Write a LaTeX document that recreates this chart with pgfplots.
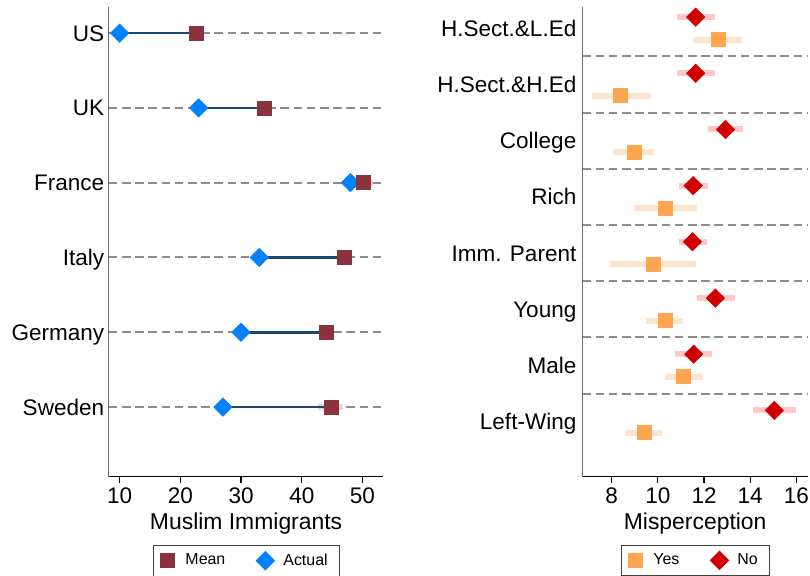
\documentclass[border=0pt]{standalone}
\usepackage{pgfplots}
\pgfplotsset{compat=1.18}
\usepackage{fontspec}
\setmainfont{Liberation Sans}
\definecolor{meanred}{RGB}{140,50,60}
\definecolor{actualblue}{RGB}{0,130,255}
\definecolor{navyline}{RGB}{26,71,111}
\definecolor{cimean}{RGB}{236,212,214}
\definecolor{yesorange}{RGB}{255,165,79}
\definecolor{yesci}{RGB}{255,228,204}
\definecolor{nored}{RGB}{208,0,0}
\definecolor{noci}{RGB}{255,200,200}
\definecolor{gridgray}{RGB}{140,140,140}
\definecolor{yaxgray}{RGB}{110,110,110}
\begin{document}
\begin{tikzpicture}
\path[use as bounding box] (0,0) rectangle (405bp,288bp);
\pgfplotsset{
  common/.style={
    scale only axis,
    axis x line*=bottom, axis y line*=left,
    axis line style={-},
    every outer x axis line/.append style={-},
    every outer y axis line/.append style={-},
    x axis line style={black, line width=0.7bp},
    y axis line style={draw=yaxgray, line width=0.6bp},
    tick align=outside,
    major tick length=3bp,
    minor tick length=0pt,
    xtick style={black, line width=0.6bp},
    ytick style={draw=none},
    /pgf/number format/assume math mode=true,
    tick label style={font=\fontsize{11.3}{13.5}\selectfont},
    xticklabel style={anchor=base, yshift=-10.5bp},
    yticklabel style={anchor=base east, inner xsep=0pt, yshift=-4bp},
    label style={font=\fontsize{11.5}{13.8}\selectfont},
    xlabel style={at={(axis description cs:0.5,0)}, anchor=base, yshift=-26.3bp},
    grid style={gridgray, line width=1bp, dash pattern=on 4.3bp off 2.3bp},
    legend style={at={(0.5,-0.1454)}, anchor=north, legend columns=2,
      draw=black!75, line width=0.5bp, inner xsep=3.7bp, inner ysep=2bp,
      font=\fontsize{8}{9.6}\selectfont,
      /tikz/every even column/.append style={column sep=13.5bp}},
    legend image code/.code={\draw[#1] plot coordinates {(4bp,0bp)}; \path[draw=none,fill=none] (0.5bp,0bp) (11bp,0bp);},
  },
  meanmark/.style={only marks, mark=square*, mark size=3.5bp, color=meanred},
  actualmark/.style={only marks, mark=square*, mark options={rotate=45}, mark size=3.2bp, color=actualblue},
  yesmark/.style={only marks, mark=square*, mark size=3.5bp, color=yesorange},
  nomark/.style={only marks, mark=square*, mark options={rotate=45}, mark size=3.2bp, color=nored},
}
% ---------------- left panel ----------------
\begin{axis}[common,
  at={(54.35bp,49.65bp)}, anchor=south west,
  width=137.4bp, height=234.85bp,
  xmin=8.19, xmax=53.46, ymin=0.068, ymax=6.35,
  xtick={10,20,30,40,50},
  ytick={1,2,3,4,5,6},
  yticklabels={Sweden,Germany,Italy,France,UK,US},
  yticklabel style={xshift=0.9bp},
  ymajorgrids,
  xlabel={Muslim Immigrants},
]
\addplot[cimean, line width=3bp, unbounded coords=jump, forget plot] table {
x y
42.7 1
46.8 1
nan nan
43.3 2
44.7 2
nan nan
45.9 3
48.3 3
nan nan
48.6 4
51.8 4
};
\addplot[navyline, line width=1.3bp, unbounded coords=jump, forget plot] table {
x y
10 6
22.7 6
nan nan
23 5
33.9 5
nan nan
48 4
50.2 4
nan nan
33 3
47 3
nan nan
30 2
44 2
nan nan
27 1
44.8 1
};
\addplot[actualmark, forget plot] table {
x y
10 6
23 5
48 4
33 3
30 2
27 1
};
\addplot[meanmark, forget plot] table {
x y
22.7 6
33.9 5
50.2 4
47 3
44 2
44.8 1
};
\addlegendimage{meanmark}
\addlegendentry{Mean}
\addlegendimage{actualmark}
\addlegendentry{Actual}
\end{axis}
% ---------------- right panel ----------------
\begin{axis}[common,
  at={(291.15bp,49.65bp)}, anchor=south west,
  width=112.85bp, height=234.85bp,
  xmin=6.73, xmax=16.5, ymin=0.02, ymax=8.38,
  xtick={8,10,12,14,16},
  ytick={1,2,3,4,5,6,7,8},
  yticklabels={Left-Wing,Male,Young,Imm. Parent,Rich,College,H.Sect.\&H.Ed,H.Sect.\&L.Ed},
  yticklabel style={xshift=0.2bp},
  minor ytick={1.5,2.5,3.5,4.5,5.5,6.5,7.5},
  yminorgrids,
  xlabel={Misperception},
]
\addplot[yesci, line width=3bp, unbounded coords=jump, forget plot] table {
x y
11.56 7.8
13.65 7.8
nan nan
7.15 6.8
9.67 6.8
nan nan
8.10 5.8
9.82 5.8
nan nan
8.97 4.8
11.68 4.8
nan nan
7.93 3.8
11.64 3.8
nan nan
9.48 2.8
11.08 2.8
nan nan
10.29 1.8
11.95 1.8
nan nan
8.59 0.8
10.20 0.8
};
\addplot[noci, line width=3bp, unbounded coords=jump, forget plot] table {
x y
10.83 8.2
12.46 8.2
nan nan
10.83 7.2
12.46 7.2
nan nan
12.17 6.2
13.68 6.2
nan nan
10.90 5.2
12.17 5.2
nan nan
10.90 4.2
12.11 4.2
nan nan
11.68 3.2
13.34 3.2
nan nan
10.74 2.2
12.34 2.2
nan nan
14.12 1.2
15.98 1.2
};
\addplot[yesmark, forget plot] table {
x y
12.60 7.8
8.40 6.8
8.97 5.8
10.31 4.8
9.79 3.8
10.31 2.8
11.12 1.8
9.40 0.8
};
\addplot[nomark, forget plot] table {
x y
11.64 8.2
11.64 7.2
12.93 6.2
11.53 5.2
11.50 4.2
12.49 3.2
11.55 2.2
15.04 1.2
};
\addlegendimage{yesmark}
\addlegendentry{Yes}
\addlegendimage{nomark}
\addlegendentry{No}
\end{axis}
\end{tikzpicture}
\end{document}
